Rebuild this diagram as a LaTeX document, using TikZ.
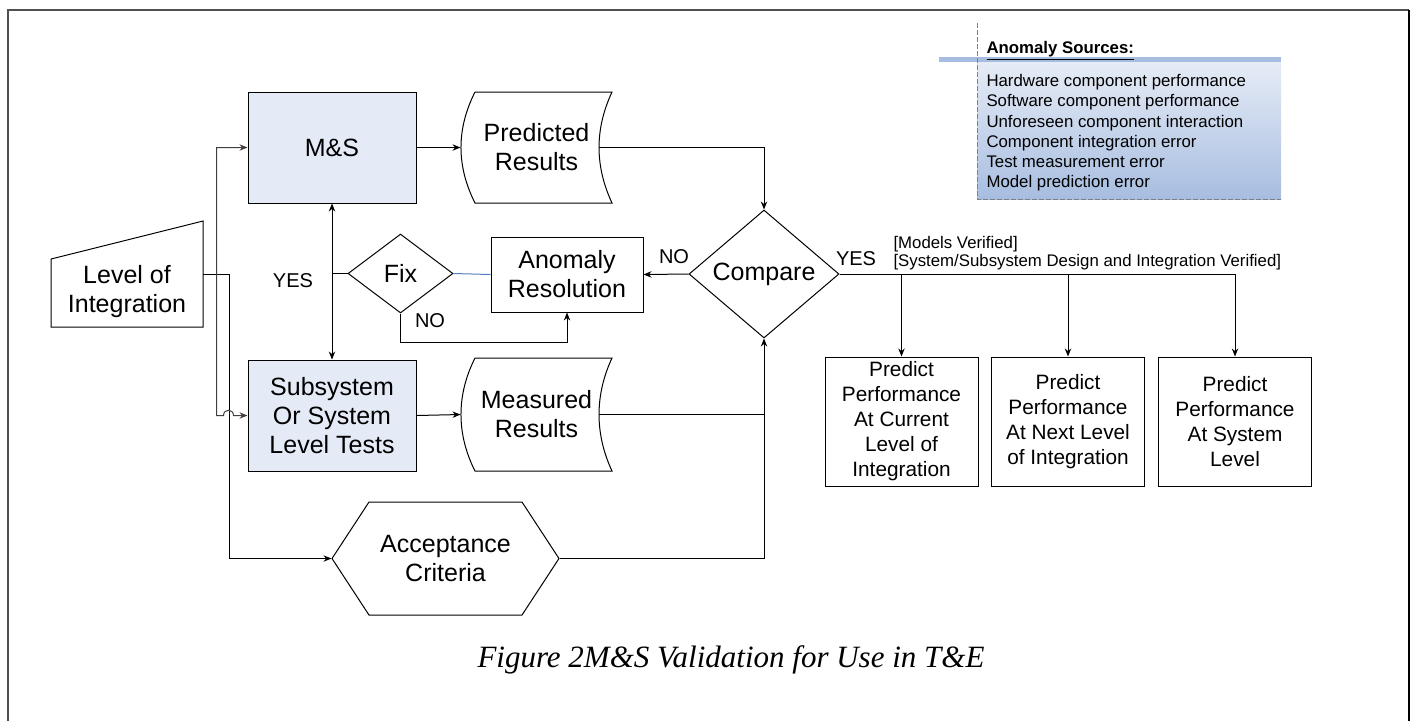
\documentclass[tikz,border=0pt]{standalone}
\usepackage{fontspec}
\setmainfont{Liberation Sans}
\newfontfamily\captionserif{Liberation Serif}
\usetikzlibrary{shapes.geometric, arrows.meta, calc}

\definecolor{boxfill}{RGB}{229,235,246}
\definecolor{fixblue}{RGB}{79,129,189}
\definecolor{notetop}{RGB}{230,236,246}
\definecolor{notebot}{RGB}{167,189,224}
\definecolor{framegray}{RGB}{80,80,80}

\begin{document}
\begin{tikzpicture}[x=0.5pt, y=-0.5pt, >={Stealth[length=4pt, width=3.2pt]}, line width=0.5pt,
    shapetext/.style={inner sep=0pt, align=center, font=\fontsize{12.5}{14.5}\selectfont},
    procbox/.style={shapetext, draw, fill=boxfill, minimum width=84pt, minimum height=55.5pt},
    plainbox/.style={shapetext, draw},
    predictbox/.style={draw, inner sep=0pt, align=center, minimum width=76.5pt, minimum height=64.5pt,
        font=\fontsize{10.4}{12.5}\selectfont},
    decision/.style={shapetext, draw, diamond},
    flowlabel/.style={inner sep=0pt, font=\fontsize{10}{12}\selectfont}]

    \useasboundingbox (0,0) rectangle (1416,720);

    % --- Frame ---
    \draw[framegray, line width=1pt] (8,730) -- (8,10) -- (1409,10);
    \draw[line width=0.75pt] (1409,10) -- (1409,730);

    % --- Anomaly Sources note ---
    \shade[top color=notetop, bottom color=notebot] (977,62) rectangle (1281,199);
    \draw[notebot, line width=2.5pt] (939,59.5) -- (1281,59.5);
    \draw[gray, dash pattern=on 2.5pt off 1pt] (977,23) -- (977,199) -- (1281,199);
    \node[anchor=base west, inner sep=0pt, font=\fontsize{8.4}{10}\selectfont\bfseries] (srctitle) at (986,53)
        {\underline{Anomaly Sources:}};
    \node[anchor=north west, inner sep=0pt, align=left, font=\fontsize{8.4}{10.1}\selectfont] (srclist) at (986,74)
        {Hardware component performance\\Software component performance\\Unforeseen component interaction\\
         Component integration error\\Test measurement error\\Model prediction error};

    % --- Level of Integration (manual input) ---
    \draw (51,259) -- (203,221) -- (203,327) -- (51,327) -- cycle;
    \node[shapetext, minimum width=76pt] (loi) at (127,292) {Level of\\Integration};
    \coordinate (loiout) at (203,274);

    % --- Model and test boxes ---
    \node[procbox] (ms) at (332,147.5) {M\&S};
    \node[procbox] (sub) at (332,415.5) {Subsystem\\Or System\\Level Tests};

    % --- Stored results ---
    \draw (475,92) -- (612,92) .. controls (594.7,129) and (594.7,166) .. (612,203)
        -- (475,203) .. controls (456.3,166) and (456.3,129) .. (475,92);
    \node[shapetext, minimum width=75.5pt, minimum height=55.5pt] (pred) at (536.5,147.5) {Predicted\\Results};
    \coordinate (predout) at (599,147.5);

    \draw (475,358) -- (612,358) .. controls (594.7,395) and (594.7,434) .. (612,471)
        -- (475,471) .. controls (456.3,434) and (456.3,395) .. (475,358);
    \node[shapetext, minimum width=75.5pt, minimum height=56.5pt] (meas) at (536.5,414.5) {Measured\\Results};
    \coordinate (measout) at (599,414.5);

    % --- Acceptance Criteria (hexagon) ---
    \draw (332,558.5) -- (369,502) -- (522,502) -- (559,558.5) -- (522,615) -- (369,615) -- cycle;
    \node[shapetext, minimum width=113.5pt, minimum height=56.5pt] (acc) at (445.5,558.5) {Acceptance\\Criteria};

    % --- Decisions ---
    \node[decision, minimum width=75pt, minimum height=64pt] (cmp) at (764,274) {Compare};
    \node[decision, minimum width=52.5pt, minimum height=39.5pt] (fix) at (400.5,273.5) {Fix};
    \node[plainbox, minimum width=76pt, minimum height=37.5pt] (anom) at (567,274.5) {Anomaly\\Resolution};

    % --- Predictions ---
    \node[predictbox] (p1) at (901.5,421.5) {Predict\\Performance\\At Current\\Level of\\Integration};
    \node[predictbox] (p2) at (1068,421.5) {Predict\\Performance\\At Next Level\\of Integration};
    \node[predictbox] (p3) at (1235,421.5) {Predict\\Performance\\At System\\Level};

    % --- Connectors ---
    \draw[->] (loiout) -- ++(26,0) |- (acc.west);
    \draw[<->, black!75] (ms.west) -- ++(-31,0) |- ($(sub.west)+(-24,0)$)
        .. controls +(0,-7) and +(0,-7) .. ++(10,0) -- (sub.west);
    \draw[->] (ms.east) -- (pred.west);
    \draw[->] (sub.east) -- (meas.west);
    \draw[->] (predout) -| (cmp.north);
    \draw[->] (measout) -| (cmp.south);
    \draw (acc.east) -| (measout -| cmp.south);
    \draw[->] (cmp.west) -- (anom.east);
    \draw[fixblue] (fix.east) -- (anom.west);
    \draw[<->] (ms.south) -- (sub.north);
    \draw (fix.west) -- (fix.west -| ms.south);
    \draw[->] (fix.south) -- ++(0,29) -| (anom.south);
    \draw (cmp.east) -- (cmp.east -| p3.north);
    \foreach \p in {p1, p2, p3}
        \draw[->] (cmp.east -| \p.north) -- (\p.north);

    % --- Labels ---
    \node[flowlabel] (noCmp) at (674,257) {NO};
    \node[flowlabel] (yesCmp) at (856,259) {YES};
    \node[flowlabel] (yesFix) at (293,280.5) {YES};
    \node[flowlabel] (noFix) at (430,321) {NO};
    \node[anchor=south west, inner sep=0pt, align=left, font=\fontsize{8.4}{8.8}\selectfont] (verified) at (893,270)
        {{[}Models Verified{]}\\{[}System/Subsystem Design and Integration Verified{]}};

    % --- Caption ---
    \node[anchor=base west, inner sep=0pt, font=\captionserif\itshape\fontsize{15.5}{18}\selectfont] (caption) at (477,667)
        {Figure 2M\&S Validation for Use in T\&E};

\end{tikzpicture}
\end{document}
